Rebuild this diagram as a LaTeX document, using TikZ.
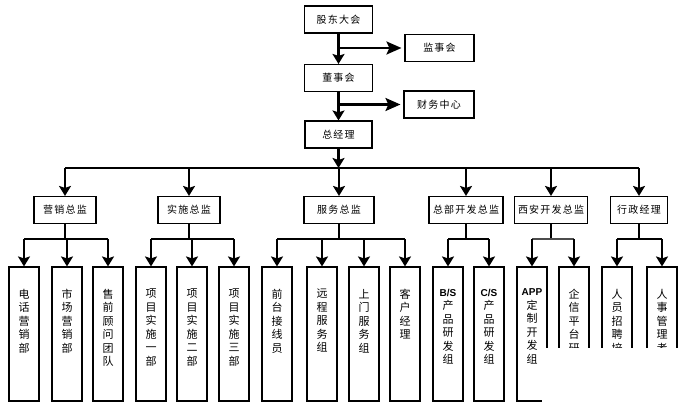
\documentclass[tikz,border=0pt]{standalone}
\usepackage{fontspec}
\newfontfamily\cjk[LetterSpace=12]{Noto Sans CJK SC}
\newfontfamily\latin{Liberation Sans}
\usetikzlibrary{arrows.meta}
\newcommand{\vtext}[1]{\parbox[c][90pt][t]{24pt}{\centering\cjk\fontsize{11}{13.5}\selectfont #1}}
\newcommand{\lat}[1]{{\latin\bfseries\fontsize{10}{14}\selectfont #1}}

\begin{document}
\begin{tikzpicture}[x=1pt,y=-1pt,
    box/.style={draw,line width=1.1pt,minimum height=27pt,inner sep=0pt,font=\cjk\fontsize{10}{12}\selectfont},
    leaf/.style={draw,line width=1.1pt,minimum width=30pt,minimum height=134pt,inner sep=0pt},
    arr/.style={line width=2.6pt,-{Stealth[length=10pt,width=12pt,inset=2pt]}},
    harr/.style={line width=2.6pt,-{Stealth[length=15pt,width=13pt,inset=3pt]}},
    stem/.style={line width=2.6pt},
    busline/.style={line width=1.8pt}]
    \useasboundingbox (0,0) rectangle (682,409);
    \node[box,minimum width=68pt] (gd) at (338.5,19.5) {股东大会};
    \node[box,minimum width=69pt] (jsh) at (439.5,48) {监事会};
    \node[box,minimum width=68pt] (dsh) at (338.5,78) {董事会};
    \node[box,minimum width=70pt] (cw) at (439,104.5) {财务中心};
    \node[box,minimum width=67pt] (zjl) at (338.5,134.5) {总经理};
    \draw[arr] (gd) -- (dsh);
    \draw[harr] (gd.south |- jsh.west) -- ([xshift=-3pt]jsh.west);
    \draw[arr] (dsh) -- (zjl);
    \draw[harr] (dsh.south |- cw.west) -- ([xshift=-3pt]cw.west);
    \coordinate (bus) at (338.5,168);
    \coordinate (sub) at (0,239);
    \node[box,minimum width=62pt] (yx) at (65,210) {营销总监};
    \node[box,minimum width=62pt] (ss) at (189,210) {实施总监};
    \node[box,minimum width=70pt] (fw) at (339,210) {服务总监};
    \node[box,minimum width=74pt] (zb) at (466,210) {总部开发总监};
    \node[box,minimum width=73pt] (xa) at (551,210) {西安开发总监};
    \node[box,minimum width=57pt] (xz) at (639,210) {行政经理};
    \draw[arr] (zjl) -- (bus);
    \draw[busline] (yx.north |- bus) -- (xz.north |- bus);
    \foreach \n in {yx,ss,fw,zb,xa,xz}
        \draw[arr] (\n.north |- bus) -- (\n.north);
    \node[leaf] (dhyx) at (24,334) {\vtext{电\\话\\营\\销\\部}};
    \node[leaf] (scyx) at (67,334) {\vtext{市\\场\\营\\销\\部}};
    \node[leaf] (sqgw) at (108,334) {\vtext{售\\前\\顾\\问\\团\\队}};
    \node[leaf] (ssy) at (151,334) {\vtext{项\\目\\实\\施\\一\\部}};
    \node[leaf] (sse) at (192,334) {\vtext{项\\目\\实\\施\\二\\部}};
    \node[leaf] (sss) at (234,334) {\vtext{项\\目\\实\\施\\三\\部}};
    \node[leaf] (qtjx) at (277,334) {\vtext{前\\台\\接\\线\\员}};
    \node[leaf] (ycfw) at (322,334) {\vtext{远\\程\\服\\务\\组}};
    \node[leaf] (smfw) at (364,334) {\vtext{上\\门\\服\\务\\组}};
    \node[leaf] (khjl) at (405,334) {\vtext{客\\户\\经\\理}};
    \node[leaf] (bsyf) at (448,334) {\vtext{\lat{B/S}\\产\\品\\研\\发\\组}};
    \node[leaf] (csyf) at (489,334) {\vtext{\lat{C/S}\\产\\品\\研\\发\\组}};
    \node[leaf] (appkf) at (532,334) {\vtext{\lat{APP}\\定\\制\\开\\发\\组}};
    \node[leaf] (qxpt) at (574,334) {\vtext{企\\信\\平\\台\\研}};
    \node[leaf] (rypx) at (617,334) {\vtext{人\\员\\招\\聘\\培}};
    \node[leaf] (rsgl) at (662,334) {\vtext{人\\事\\管\\理\\考}};
    \draw[stem] (yx.south) -- (yx.south |- sub);
    \draw[busline] (dhyx.north |- sub) -- (sqgw.north |- sub);
    \foreach \n in {dhyx,scyx,sqgw}
        \draw[arr] (\n.north |- sub) -- (\n.north);
    \draw[stem] (ss.south) -- (ss.south |- sub);
    \draw[busline] (ssy.north |- sub) -- (sss.north |- sub);
    \foreach \n in {ssy,sse,sss}
        \draw[arr] (\n.north |- sub) -- (\n.north);
    \draw[stem] (fw.south) -- (fw.south |- sub);
    \draw[busline] (qtjx.north |- sub) -- (khjl.north |- sub);
    \foreach \n in {qtjx,ycfw,smfw,khjl}
        \draw[arr] (\n.north |- sub) -- (\n.north);
    \draw[stem] (zb.south) -- (zb.south |- sub);
    \draw[busline] (bsyf.north |- sub) -- (csyf.north |- sub);
    \foreach \n in {bsyf,csyf}
        \draw[arr] (\n.north |- sub) -- (\n.north);
    \draw[stem] (xa.south) -- (xa.south |- sub);
    \draw[line width=1.2pt,black!70] (appkf.north |- sub) -- (qxpt.north |- sub);
    \foreach \n in {appkf,qxpt}
        \draw[arr] (\n.north |- sub) -- (\n.north);
    \draw[stem] (xz.south) -- (xz.south |- sub);
    \draw[busline] (rypx.north |- sub) -- (rsgl.north |- sub);
    \foreach \n in {rypx,rsgl}
        \draw[arr] (\n.north |- sub) -- (\n.north);
    \fill[white] (542,348) rectangle (682,409);
\end{tikzpicture}
\end{document}
